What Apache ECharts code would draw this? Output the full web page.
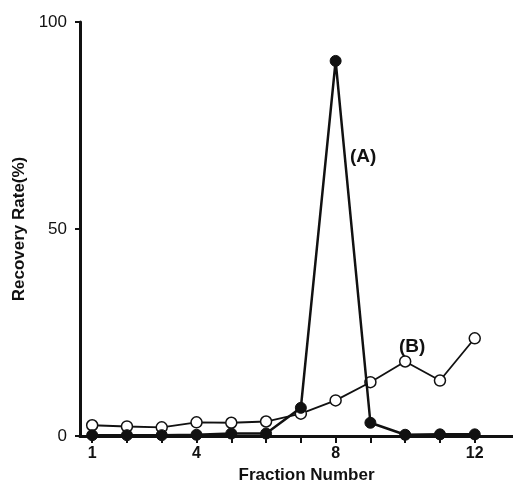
<!DOCTYPE html>
<html><head><meta charset="utf-8">
<script src="https://cdn.jsdelivr.net/npm/echarts@6/dist/echarts.min.js"></script>
<style>html,body{margin:0;padding:0;background:#fff}#c{width:513px;height:492px}</style>
</head><body><div id="c"></div>
<script>
const fractions = [1,2,3,4,5,6,7,8,9,10,11,12];
const seriesA = [0.2,0.2,0.2,0.3,0.6,0.6,6.8,90.6,3.2,0.3,0.4,0.4];
const seriesB = [2.6,2.3,2.1,3.3,3.2,3.5,5.4,8.6,13.0,18.0,13.4,23.6];
const xTickValues = [1,2,3,4,5,6,7,8,9,10,11,12];
const xLabelValues = [1,4,8,12];
const yTicks = [0,50,100];

const chart = echarts.init(document.getElementById('c'));
const font = 'Liberation Sans';
chart.setOption({
  animation: false,
  backgroundColor: '#fff',
  grid: {left: 80, top: 22, right: 0, bottom: 56, containLabel: false, outerBoundsMode: 'none'},
  xAxis: {
    type: 'value', min: 0.65, max: 13.1,
    name: 'Fraction Number', nameLocation: 'middle', nameGap: 26,
    nameTextStyle: {fontFamily: font, fontWeight: 'bold', fontSize: 17, color: '#111', padding: [0,0,0,20]},
    axisLine: {lineStyle: {color: '#111', width: 3}},
    axisTick: {show: true, customValues: xTickValues, length: 7, inside: false, lineStyle: {color: '#111', width: 2}},
    axisLabel: {customValues: xLabelValues, fontFamily: font, fontWeight: 'bold', fontSize: 16, color: '#111', margin: 10},
    splitLine: {show: false}
  },
  yAxis: {
    type: 'value', min: 0, max: 100, interval: 50,
    name: 'Recovery Rate(%)', nameLocation: 'middle', nameGap: 52, nameRotate: 90,
    nameTextStyle: {fontFamily: font, fontWeight: 'bold', fontSize: 17, color: '#111'},
    axisLine: {show: true, lineStyle: {color: '#111', width: 3}},
    axisTick: {show: true, length: 5, lineStyle: {color: '#111', width: 2}},
    axisLabel: {customValues: yTicks, fontFamily: font, fontSize: 17, color: '#111', margin: 13},
    splitLine: {show: false}
  },
  series: [
    {
      name: 'A', type: 'line',
      data: fractions.map((f,i)=>[f, seriesA[i]]),
      symbol: 'circle', symbolSize: 11,
      itemStyle: {color: '#111', borderColor: '#111', borderWidth: 1},
      lineStyle: {color: '#111', width: 2.5},
      z: 3
    },
    {
      name: 'B', type: 'line',
      data: fractions.map((f,i)=>[f, seriesB[i]]),
      symbol: 'circle', symbolSize: 11,
      itemStyle: {color: '#fff', borderColor: '#111', borderWidth: 1.5},
      lineStyle: {color: '#111', width: 1.8},
      z: 2
    }
  ],
  graphic: [
    {type: 'text', left: 350, top: 147, style: {text: '(A)', fontFamily: font, fontWeight: 'bold', fontSize: 19, fill: '#111'}},
    {type: 'text', left: 399, top: 337, style: {text: '(B)', fontFamily: font, fontWeight: 'bold', fontSize: 19, fill: '#111'}}
  ]
});
</script></body></html>
